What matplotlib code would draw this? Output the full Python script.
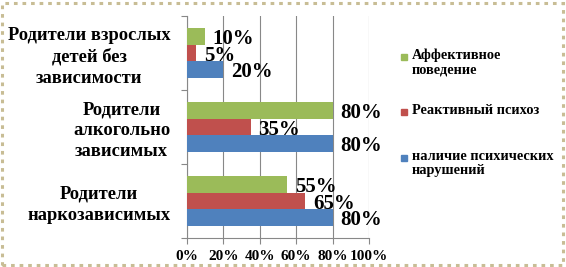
import numpy as np
import matplotlib
matplotlib.use("Agg")
import matplotlib.pyplot as plt
from matplotlib.patches import Rectangle

categories = ["Родители\nнаркозависимых", "Родители\nалкогольно\nзависимых",
              "Родители взрослых\nдетей без\nзависимости"]
series_names = ["наличие психических\nнарушений", "Реактивный психоз",
                "Аффективное\nповедение"]
disorders = [80, 80, 20]
psychosis = [65, 35, 5]
affective = [55, 80, 10]
colors = ["#4F81BD", "#C0504D", "#9BBB59"]

plt.rcParams['font.family'] = ['Liberation Serif', 'DejaVu Serif']
plt.rcParams['font.weight'] = 'bold'

fig = plt.figure(figsize=(5.66, 2.67), dpi=100)
ax = fig.add_axes([187/566, 1 - 238/267, 182/566, 222/267])

y = np.arange(len(categories)) + 0.5
h = 0.224
values = [disorders, psychosis, affective]
bars = []
for i, (vals, col, name) in enumerate(zip(values, colors, series_names)):
    b = ax.barh(y + (i - 1) * h, vals, height=h, color=col, label=name, zorder=3)
    bars.append(b)

for b, vals in zip(bars, values):
    for rect, v in zip(b, vals):
        ax.annotate(f"{v}%", (rect.get_width(), rect.get_y() + rect.get_height() / 2),
                    xytext=(5.5, -2), textcoords="offset points", ha="left", va="center",
                    fontsize=15, fontweight="bold", zorder=5, annotation_clip=False)

ax.set_xlim(0, 100)
ax.set_ylim(0, 3)
ax.set_xticks(np.arange(0, 101, 20))
ax.set_xticklabels([f"{t}%" for t in range(0, 101, 20)], fontsize=11, fontweight="bold")
ax.set_yticks([0, 1, 2, 3])
ax.set_yticklabels([])
ax.set_yticks(y, minor=True)
ax.set_yticklabels(categories, minor=True, fontsize=13.3, fontweight="bold",
                   ha="right", multialignment="center", linespacing=1.3)
ax.tick_params(axis="y", which="minor", length=0, pad=12)
ax.tick_params(axis="y", which="major", length=4, color="#888888")
ax.tick_params(axis="x", length=4, color="#888888", pad=5)
ax.grid(axis="x", color="#888888", linewidth=0.8, zorder=0)
for s in ["top", "right"]:
    ax.spines[s].set_visible(False)
for s in ["left", "bottom"]:
    ax.spines[s].set_color("#888888")

# legend drawn by hand: square next to the first line of each label
leg_order = [2, 1, 0]
leg_y = [57, 112, 158]
for idx, yy in zip(leg_order, leg_y):
    fig.patches.append(Rectangle((401/566, 1 - (yy + 3)/267), 6/566, 6/267,
                                 transform=fig.transFigure, color=colors[idx], figure=fig))
    fig.text(412/566, 1 - (yy - 8)/267, series_names[idx], ha="left", va="top",
             fontsize=10.4, fontweight="bold", linespacing=1.1)

fig.patches.append(Rectangle((2/566, 2/267), 561/566, 262/267, transform=fig.transFigure,
                             fill=False, edgecolor="#C8BD95", linewidth=2.2,
                             linestyle=(0, (1.2, 1.6)), figure=fig))

fig.savefig("out.png", dpi=100)
